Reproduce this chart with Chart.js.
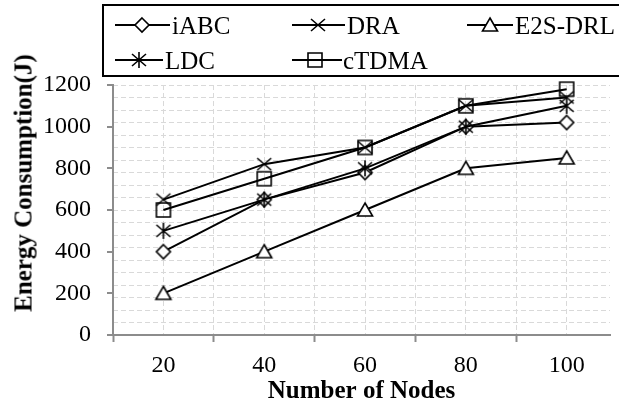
<!DOCTYPE html>
<html>
<head>
<meta charset="utf-8">
<script src="https://cdn.jsdelivr.net/npm/chart.js@4.4.1/dist/chart.umd.min.js"></script>
<style>
  body { margin: 0; background: #fff; overflow: hidden; width: 619px; height: 408px; position: relative;
         font-family: "Liberation Serif", "Times New Roman", serif; color: #000; }
  #chart { position: absolute; left: 0; top: 0; }
  #legendBox { position: absolute; left: 102px; top: 4px; width: 600px; height: 73px;
               border: 2px solid #000; box-sizing: border-box; }
  #legendIcons { position: absolute; left: 0; top: 0; }
  .lg { position: absolute; font-size: 25px; line-height: 25px; white-space: nowrap; }
  #yTitleHold { position: absolute; left: 23px; top: 183px; width: 0; height: 0; }
  #yTitle { position: absolute; left: 0; top: 0; font-weight: bold; font-size: 25px; line-height: 25px;
            white-space: nowrap; transform-origin: 0 0; transform: rotate(-90deg) translate(-50%, -50%); }
</style>
</head>
<body>
<canvas id="chart" width="619" height="408"></canvas>
<div id="legendBox"></div>
<canvas id="legendIcons" width="619" height="80"></canvas>
<div id="yTitleHold"><div id="yTitle">Energy Consumption(J)</div></div>
<script>
// chart values
const nodes = [20, 40, 60, 80, 100];
const seriesNames = ['iABC', 'DRA', 'E2S-DRL', 'LDC', 'cTDMA'];
const iABC = [400, 650, 780, 1000, 1020];
const DRA = [650, 820, 900, 1100, 1140];
const E2SDRL = [200, 400, 600, 800, 850];
const LDC = [500, 650, 800, 1000, 1100];
const cTDMA = [600, 750, 900, 1100, 1180];
const yTicks = [0, 200, 400, 600, 800, 1000, 1200];

const seriesValues = [iABC, DRA, E2SDRL, LDC, cTDMA];
const markerTypes = ['diamond', 'x', 'triangle', 'star', 'square'];
const serif = "'Liberation Serif', 'Times New Roman', serif";

// Excel-like hollow markers
function drawMarker(ctx, type, cx, cy) {
    ctx.save();
    ctx.strokeStyle = '#000';
    ctx.fillStyle = '#fff';
    ctx.lineWidth = 1.6;
    ctx.beginPath();
    if (type === 'diamond') {
        ctx.moveTo(cx, cy - 7); ctx.lineTo(cx + 7, cy); ctx.lineTo(cx, cy + 7); ctx.lineTo(cx - 7, cy);
        ctx.closePath(); ctx.fill(); ctx.stroke();
    } else if (type === 'x') {
        ctx.moveTo(cx - 7, cy - 6); ctx.lineTo(cx + 7, cy + 6);
        ctx.moveTo(cx + 7, cy - 6); ctx.lineTo(cx - 7, cy + 6);
        ctx.stroke();
    } else if (type === 'triangle') {
        ctx.moveTo(cx, cy - 7); ctx.lineTo(cx + 7.5, cy + 6); ctx.lineTo(cx - 7.5, cy + 6);
        ctx.closePath(); ctx.fill(); ctx.stroke();
    } else if (type === 'star') {
        ctx.moveTo(cx - 7, cy - 6); ctx.lineTo(cx + 7, cy + 6);
        ctx.moveTo(cx + 7, cy - 6); ctx.lineTo(cx - 7, cy + 6);
        ctx.moveTo(cx, cy - 8); ctx.lineTo(cx, cy + 8);
        ctx.stroke();
    } else if (type === 'square') {
        ctx.rect(cx - 7, cy - 7, 14, 14);
        ctx.stroke();
    }
    ctx.restore();
}

function markerImage(type) {
    const c = document.createElement('canvas');
    c.width = 20; c.height = 20;
    drawMarker(c.getContext('2d'), type, 10, 10);
    return c;
}

const gridGray = '#d9d9d9';
const axisGray = '#8c8c8c';
Chart.defaults.font.family = serif;
Chart.defaults.color = '#000';

const datasets = seriesNames.map((name, i) => ({
    label: name,
    data: nodes.map((n, j) => ({ x: n, y: seriesValues[i][j] })),
    borderColor: '#000',
    borderWidth: 2,
    pointStyle: markerImage(markerTypes[i]),
    pointRadius: 7,
    pointHoverRadius: 7,
    fill: false,
    tension: 0,
    clip: false,
    order: seriesNames.length - i // later series drawn on top, like Excel
}));

const ctx = document.getElementById('chart').getContext('2d');
new Chart(ctx, {
    type: 'line',
    data: { datasets: datasets },
    options: {
        responsive: false,
        animation: false,
        devicePixelRatio: 1,
        layout: { padding: { top: 85, left: 0, right: 0, bottom: 0 } },
        plugins: { legend: { display: false }, tooltip: { enabled: false } },
        scales: {
            x: {
                type: 'linear',
                min: 10,
                max: 108.6,
                afterBuildTicks: (s) => {
                    const t = [];
                    for (let v = 10; v <= 100; v += 10) t.push({ value: v });
                    s.ticks = t;
                },
                afterFit: (s) => { s.height = 73; },
                ticks: {
                    autoSkip: false,
                    maxRotation: 0,
                    padding: 9,
                    font: { family: serif, size: 24 },
                    callback: (v) => nodes.includes(v) ? String(v) : ''
                },
                grid: {
                    color: gridGray,
                    lineWidth: 1,
                    drawTicks: true,
                    tickLength: 7,
                    tickWidth: 2,
                    tickBorderDash: [],
                    tickColor: (c) => (c.tick && c.tick.value % 20 === 10) ? axisGray : 'rgba(0,0,0,0)'
                },
                border: { display: true, color: axisGray, width: 2, dash: [5, 3], z: 1 },
                title: {
                    display: true,
                    text: 'Number of Nodes',
                    font: { family: serif, size: 25, weight: 'bold' },
                    padding: { top: 0, bottom: 1 }
                }
            },
            y: {
                type: 'linear',
                position: 'left',
                min: 0,
                max: 1200,
                afterBuildTicks: (s) => { s.ticks = yTicks.map(v => ({ value: v })); },
                afterFit: (s) => { s.width = 113; },
                ticks: {
                    font: { family: serif, size: 24 },
                    padding: 16,
                    callback: (v) => String(v)
                },
                grid: {
                    drawOnChartArea: false,
                    drawTicks: true,
                    tickLength: 6,
                    lineWidth: 2,
                    tickColor: axisGray
                },
                border: { display: true, color: axisGray, width: 2, z: 1 }
            },
            yGrid: {
                type: 'linear',
                position: 'left',
                min: 0,
                max: 1200,
                ticks: { display: false, stepSize: 60 },
                afterFit: (s) => { s.width = 0; },
                grid: { color: gridGray, lineWidth: 1, drawTicks: false },
                border: { display: false, dash: [5, 3] }
            }
        }
    }
});

// legend: line + marker symbols drawn on a canvas, names as text
const legendItems = [
    { x1: 115, x2: 170, mx: 142, tx: 172, cy: 25 },
    { x1: 292, x2: 345, mx: 318, tx: 347, cy: 25 },
    { x1: 467, x2: 513, mx: 490, tx: 515, cy: 25 },
    { x1: 115, x2: 163, mx: 139, tx: 165, cy: 60 },
    { x1: 292, x2: 342, mx: 315, tx: 343, cy: 60 }
];
const lctx = document.getElementById('legendIcons').getContext('2d');
legendItems.forEach((it, i) => {
    lctx.save();
    lctx.strokeStyle = '#000';
    lctx.lineWidth = 2;
    lctx.beginPath();
    lctx.moveTo(it.x1, it.cy);
    lctx.lineTo(it.x2, it.cy);
    lctx.stroke();
    lctx.restore();
    drawMarker(lctx, markerTypes[i], it.mx, it.cy);
    const span = document.createElement('div');
    span.className = 'lg';
    span.textContent = seriesNames[i];
    span.style.left = it.tx + 'px';
    span.style.top = (it.cy - 12.5) + 'px';
    document.body.appendChild(span);
});
</script>
</body>
</html>
